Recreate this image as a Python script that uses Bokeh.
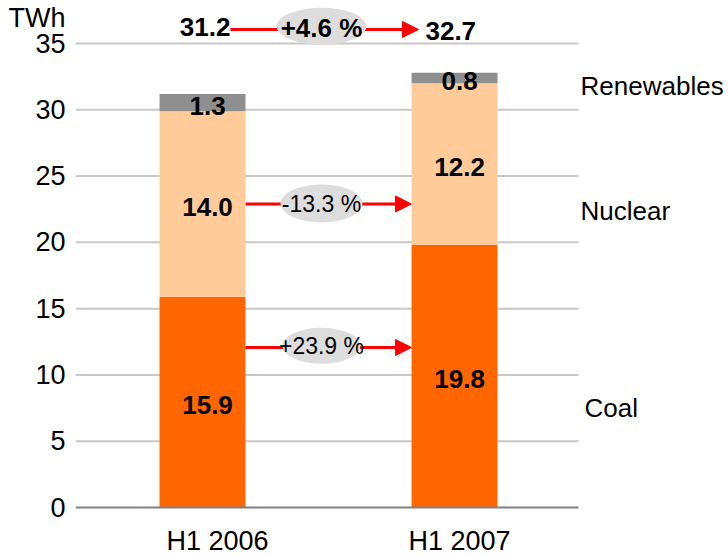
from bokeh.plotting import figure
from bokeh.models import Range1d, FixedTicker, Arrow, NormalHead
from bokeh.core.properties import value
from bokeh.embed import file_html
from bokeh.resources import INLINE

# ---- data ----
categories = ["H1 2006", "H1 2007"]
coal = [15.9, 19.8]
nuclear = [14.0, 12.2]
renewables = [1.3, 0.8]
totals = [31.2, 32.7]
series_names = ["Coal", "Nuclear", "Renewables"]
change_total = "+4.6 %"
change_nuclear = "-13.3 %"
change_coal = "+23.9 %"
y_ticks = [0, 5, 10, 15, 20, 25, 30, 35]
unit = "TWh"

FONT = "Liberation Sans"
C_COAL = "#FF6600"
C_NUC = "#FFCC99"
C_REN = "#8F8F8F"

xs = list(range(len(categories)))

p = figure(width=728, height=556, output_backend="svg", toolbar_location=None,
           x_range=Range1d(-0.504, 2.087), y_range=Range1d(-3.696, 38.245),
           min_border_left=75, min_border_right=0, min_border_top=0, min_border_bottom=0)
p.outline_line_color = None
p.xgrid.visible = False
p.ygrid.visible = False
p.xaxis.visible = False
p.background_fill_color = "white"

# gridlines limited to the chart area
gx0, gx1 = -0.504, 1.492
p.segment(x0=[gx0] * (len(y_ticks) - 1), x1=[gx1] * (len(y_ticks) - 1),
          y0=y_ticks[1:], y1=y_ticks[1:], line_color="#C8C8C8", line_width=2)

# stacked bars
bw = 0.341
b1 = coal
b2 = [c + n for c, n in zip(coal, nuclear)]
b3 = [s + r for s, r in zip(b2, renewables)]
p.vbar(x=xs, width=bw, bottom=0, top=b1, fill_color=C_COAL, line_color=None)
p.vbar(x=xs, width=bw, bottom=b1, top=b2, fill_color=C_NUC, line_color=None)
p.vbar(x=xs, width=bw, bottom=b2, top=b3, fill_color=C_REN, line_color=None)

# zero line
p.segment(x0=[gx0], x1=[gx1], y0=[0], y1=[0], line_color="#808080", line_width=2)

# segment value labels
lab_x, lab_y, lab_t = [], [], []
for i in xs:
    lab_x += [i] * 3
    lab_y += [coal[i] / 2, b1[i] + nuclear[i] / 2, b2[i] + renewables[i] / 2]
    lab_t += [f"{coal[i]:.1f}", f"{nuclear[i]:.1f}", f"{renewables[i]:.1f}"]
p.text(x=lab_x, y=lab_y, text=lab_t, x_offset=5, y_offset=3,
       text_font=value(FONT), text_font_size="26px",
       text_font_style="bold", text_align="center", text_baseline="middle", text_color="black")

# totals
y_top = 36.06
p.text(x=[0.01, 0.985], y=[36.25, 35.94], text=[f"{t:.1f}" for t in totals],
       text_font=value(FONT), text_font_size="26px", text_font_style="bold",
       text_align="center", text_baseline="middle", text_color="black")

# arrows (drawn under the ellipses)
arrow_specs = [(0.111, 0.857, y_top), (0.171, 0.829, b1[0] + nuclear[0] / 2), (0.171, 0.829, 12.07)]
for x0, x1, yy in arrow_specs:
    p.add_layout(Arrow(x_start=x0, y_start=yy, x_end=x1, y_end=yy, line_color="#FF0000",
                       line_width=3, level="underlay",
                       end=NormalHead(size=16, fill_color="#FF0000", line_color="#FF0000")))

# change ellipses + labels
ex = 0.472
p.ellipse(x=[ex, ex, ex], y=[36.3, 22.93, 12.2], width=[90, 82, 78], height=[37, 38, 36],
          width_units="screen", height_units="screen", fill_color="#DDDDDD", line_color=None)
p.text(x=[ex], y=[36.17], text=[change_total], text_font=value(FONT), text_font_size="26px",
       text_font_style="bold", text_align="center", text_baseline="middle", text_color="black")
p.text(x=[ex, ex], y=[22.9, 12.18], text=[change_nuclear, change_coal], text_font=value(FONT),
       text_font_size="23px", text_align="center", text_baseline="middle", text_color="black")

# series names at the right
p.text(x=[1.516, 1.5, 1.5], y=[7.5, 22.4, 31.83], text=series_names, text_font=value(FONT),
       text_font_size="26px", text_align="left", text_baseline="middle", text_color="black")

# category labels under the bars
p.text(x=xs, y=[-2.49] * len(xs), text=categories, x_offset=[15, 5], text_font=value(FONT),
       text_font_size="27px", text_align="center", text_baseline="middle", text_color="black")

# y axis (with unit shown at the top of the tick column)
unit_pos = 36.96
p.yaxis.ticker = FixedTicker(ticks=y_ticks + [unit_pos])
p.yaxis.major_label_overrides = {unit_pos: unit}
p.yaxis.axis_line_color = None
p.yaxis.major_tick_line_color = None
p.yaxis.minor_tick_line_color = None
p.yaxis.major_tick_out = 0
p.yaxis.major_tick_in = 0
p.yaxis.minor_tick_out = 0
p.yaxis.major_label_standoff = 10
p.yaxis.major_label_text_font = FONT
p.yaxis.major_label_text_font_size = "27px"
p.yaxis.major_label_text_color = "black"

open("out.html", "w").write(file_html(p, INLINE))
